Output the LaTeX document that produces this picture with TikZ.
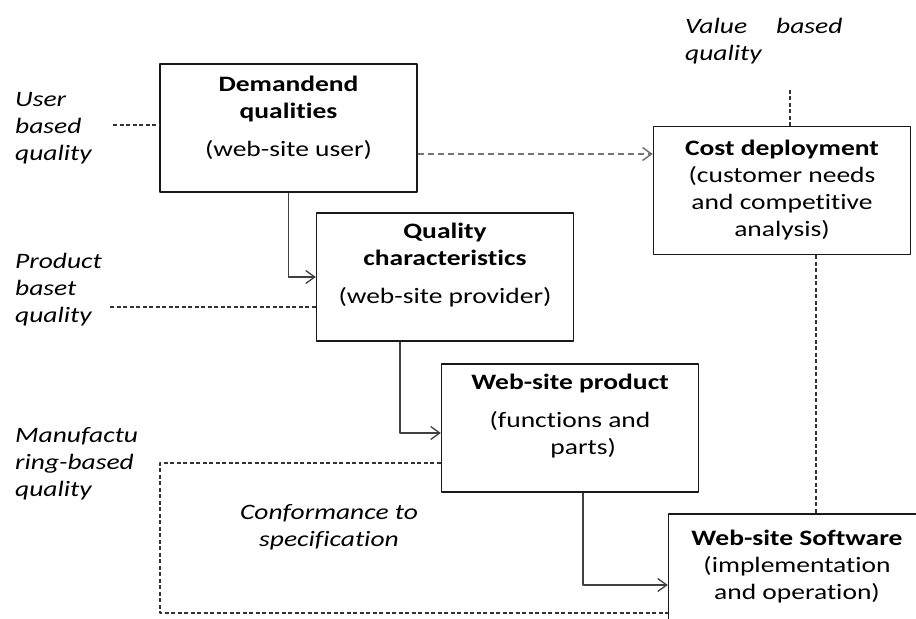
\documentclass[tikz,border=0pt]{standalone}
\usepackage{fontspec}
\setmainfont{Carlito}[FakeStretch=1.25,Ligatures=NoCommon]
\usetikzlibrary{arrows.meta}
\begin{document}
\begin{tikzpicture}[x=1bp,y=-1bp,line join=round,
	font=\fontsize{22bp}{27bp}\selectfont,
	box/.style={draw=black!90,line width=1.4bp,minimum width=257bp,minimum height=128bp,inner sep=0pt,align=center},
	lab/.style={anchor=west,align=left,inner sep=0pt,font=\fontsize{22bp}{27bp}\selectfont\itshape},
	arr/.style={draw=black!75,line width=1.3bp,-{Straight Barb[length=9bp,width=13bp]}},
	longdash/.style={draw=black!55,line width=1.5bp,dash pattern=on 6.5bp off 3.5bp,-{Straight Barb[length=9bp,width=13bp]}},
	shortdash/.style={draw=black!80,line width=1.1bp,dash pattern=on 4bp off 2.5bp}]
	\clip (0,0) rectangle (916,619);
	% boxes
	\node[box] (demand) at (288.5,128) {\textbf{Demandend}\\\textbf{qualities}\\[11bp](web-site user)\\[-4bp]~};
	\node[box] (qchar) at (445,277) {\textbf{Quality}\\\textbf{characteristics}\\[11bp](web-site provider)\\~};
	\node[box] (product) at (570,428) {\textbf{Web-site product}\\[11bp](functions and\\\hspace*{1.2em}parts)\\~};
	\node[box] (cost) at (782,190.5) {\textbf{Cost deployment}\\(customer needs\\and competitive\\analysis)};
	\node[box] (software) at (797,578) {\textbf{Web-site Software}\\(implementation\\and operation)\\~};
	% labels
	\node[lab] (user) at (15,128) {User\\based\\quality};
	\node[lab] (prod) at (15,290) {Product\\baset\\quality};
	\node[lab] (manu) at (15,464) {Manufactu\\ring-based\\quality};
	\node[lab] (value) at (685,41) {Value\hspace{29bp}based\\quality};
	\node[lab,anchor=center,align=center] (conf) at (329,527) {Conformance to\\specification};
	\coordinate (ustart) at (113,125);
	\coordinate (pstart) at (110,307);
	\coordinate (vstart) at (790,90);
	\coordinate (c1) at (160,463);
	\coordinate (c2) at (160,613);
	% connectors
	\draw[arr] (demand.south) |- (qchar.west);
	\draw[arr] ([xshift=-45bp]qchar.south) |- ([yshift=-5bp]product.west);
	\draw[arr] ([xshift=13bp]product.south) |- ([yshift=-7bp]software.west);
	\draw[longdash] ([yshift=-26bp]demand.east) -- ([yshift=-26bp]demand.east -| cost.west);
	\draw[shortdash] (ustart) -- (ustart -| demand.west);
	\draw[shortdash] (pstart) -- (pstart -| qchar.west);
	\draw[shortdash] (vstart) -- (vstart |- cost.north);
	\draw[shortdash] ([xshift=34bp]cost.south) -- ([xshift=34bp]cost.south |- software.north);
	\draw[shortdash] (c1 -| product.west) -- (c1) -- (c2) -- (c2 -| software.west);
\end{tikzpicture}
\end{document}
